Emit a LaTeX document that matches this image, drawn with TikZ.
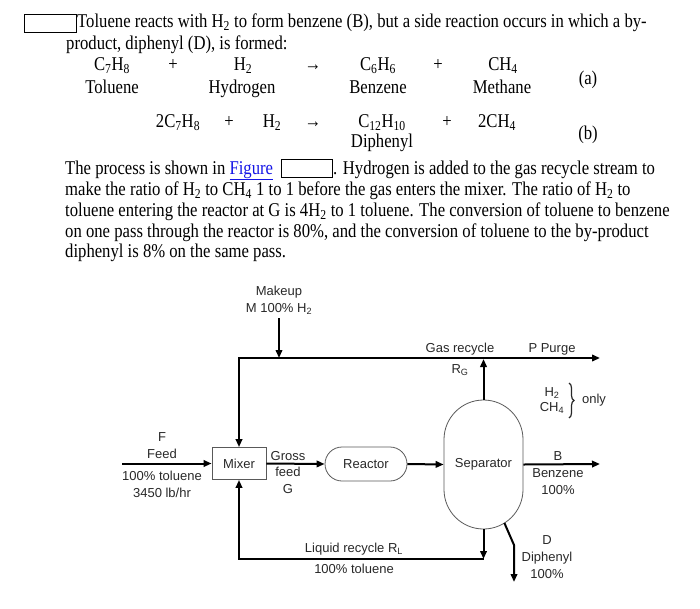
\documentclass[tikz,border=0pt]{standalone}
\usepackage{fontspec}
\setmainfont{Liberation Serif}[FakeStretch=0.855]
\setsansfont{Liberation Sans}
\usetikzlibrary{arrows.meta,shapes.misc,decorations.pathreplacing}
\definecolor{linkblue}{RGB}{20,20,230}
\definecolor{labgray}{RGB}{40,40,40}
\begin{document}
\begin{tikzpicture}[x=1pt,y=-1pt,
  body/.style={font=\fontsize{19.5}{21}\selectfont, inner sep=0pt, anchor=base west},
  eqn/.style={font=\fontsize{19.5}{21}\selectfont, inner sep=0pt, anchor=base},
  lab/.style={font=\sffamily\fontsize{13}{17}\selectfont, text=labgray, inner sep=0pt, align=center},
  blankbox/.style={draw, line width=0.8pt, inner sep=0pt, anchor=north west},
  flow/.style={line width=2pt, -{Triangle[length=8pt,width=6.5pt]}},
  flowtwo/.style={line width=2pt, {Triangle[length=8pt,width=6.5pt]}-{Triangle[length=8pt,width=6.5pt]}},
  unit/.style={draw=black!65, line width=0.8pt, inner sep=0pt, text=labgray, font=\sffamily\fontsize{13}{17}\selectfont}]
\useasboundingbox (0,0) rectangle (700,608);

% ---------- text ----------
\node[blankbox, minimum width=52pt, minimum height=18pt] (blank1) at (24,14) {};
\node[body] (l1) at (77,27) {Toluene reacts with H\textsubscript{2} to form benzene (B), but a side reaction occurs in which a by-};
\node[body] (l2) at (66,49) {product, diphenyl (D), is formed:};

\node[eqn] (a1) at (112,70) {C\textsubscript{7}H\textsubscript{8}};
\node[eqn] (a2) at (173,70) {+};
\node[eqn] (a3) at (243,70) {H\textsubscript{2}};
\node[eqn] (a4) at (313,70) {→};
\node[eqn] (a5) at (378,70) {C\textsubscript{6}H\textsubscript{6}};
\node[eqn] (a6) at (438,70) {+};
\node[eqn] (a7) at (503,70) {CH\textsubscript{4}};
\node[eqn] (a8) at (112,93) {Toluene};
\node[eqn] (a9) at (242,93) {Hydrogen};
\node[eqn] (a10) at (378,93) {Benzene};
\node[eqn] (a11) at (502,93) {Methane};
\node[eqn] (alab) at (588,84) {(a)};

\node[eqn] (b1) at (178,127) {2C\textsubscript{7}H\textsubscript{8}};
\node[eqn] (b2) at (229,127) {+};
\node[eqn] (b3) at (272,127) {H\textsubscript{2}};
\node[eqn] (b4) at (313,127) {→};
\node[eqn] (b5) at (382,127) {C\textsubscript{12}H\textsubscript{10}};
\node[eqn] (b6) at (447,127) {+};
\node[eqn] (b7) at (497,127) {2CH\textsubscript{4}};
\node[eqn] (b8) at (382,147) {Diphenyl};
\node[eqn] (blab) at (588,139) {(b)};

\node[body] (p1a) at (65,174) {The process is shown in \textcolor{linkblue}{\underline{Figure}}};
\node[blankbox, minimum width=51pt, minimum height=18pt] (blank2) at (281,159) {};
\node[body] (p1b) at (333,174) {. Hydrogen is added to the gas recycle stream to};
\node[body] (p2) at (65,195) {make the ratio of H\textsubscript{2} to CH\textsubscript{4} 1 to 1 before the gas enters the mixer. The ratio of H\textsubscript{2} to};
\node[body] (p3) at (65,216.5) {toluene entering the reactor at G is 4H\textsubscript{2} to 1 toluene. The conversion of toluene to benzene};
\node[body] (p4) at (65,237.5) {on one pass through the reactor is 80\%, and the conversion of toluene to the by-product};
\node[body] (p5) at (65,257.5) {diphenyl is 8\% on the same pass.};

% ---------- units ----------
\node[unit, minimum width=54pt, minimum height=32pt] (mixer) at (239,463.5) {Mixer};
\node[unit, rounded rectangle, minimum width=82pt, minimum height=34pt] (reactor) at (366,464) {Reactor};
\node[unit, rounded corners=39.5pt, minimum width=79pt, minimum height=129pt] (sep) at (483.5,464.5) {Separator};

% ---------- coordinates ----------
\coordinate (feedin) at (122,463.5);
\coordinate (mk) at (279,318);
\coordinate (topMk) at (279,358);
\coordinate (topL) at (239,358);
\coordinate (topSep) at (483.5,359);
\coordinate (purge) at (600,358);
\coordinate (bout) at (600,464);
\coordinate (botR) at (483.5,559);
\coordinate (botL) at (239,559);
\coordinate (dstart) at (504.4,523);
\coordinate (dbend) at (514,545);
\coordinate (dend) at (514,582);

% ---------- streams ----------
\draw[flow] (feedin) -- (mixer.west);
\draw[flow] (mk) -- (topMk);
\draw[flowtwo] (purge) -- (topL) -- (mixer.north);
\draw[flow] (sep.north) -- (topSep);
\draw[flow] (mixer.east) -- (reactor.west);
\draw[flow] (reactor.east) -- (sep.west);
\draw[flow] (sep.east) -- (bout);
\draw[flow] (sep.south) -- (botR);
\draw[flow] (botR) -- (botL) -- (mixer.south);
\draw[flow] (dstart) -- (dbend) -- (dend);

% ---------- labels ----------
\node[lab] (mklab) at (279,300.5) {Makeup\\M 100\% H\textsubscript{2}};
\node[lab] (flab) at (162,446) {F\\Feed};
\node[lab] (flab2) at (162,484) {100\% toluene\\3450 lb/hr};
\node[lab, font=\sffamily\fontsize{13}{16.5}\selectfont] (glab) at (288,472.5) {Gross\\feed\\G};
\node[lab] (gaslab) at (460,349) {Gas recycle};
\node[lab] (rglab) at (460,370) {R\textsubscript{G}};
\node[lab] (plab) at (552,349) {P Purge};
\node[lab, font=\sffamily\fontsize{13}{15}\selectfont] (hclab) at (552,400.5) {H\textsubscript{2}\\CH\textsubscript{4}};
\draw[line width=1.2pt, labgray, decorate, decoration={brace, amplitude=5pt}] (569,383) -- (569,418);
\node[lab] (onlylab) at (594,400) {only};
\node[lab] (blab2) at (558,473) {B\\Benzene\\100\%};
\node[lab] (dlab) at (547,557) {D\\Diphenyl\\100\%};
\node[lab] (llab) at (354,549) {Liquid recycle R\textsubscript{L}};
\node[lab] (llab2) at (354,569) {100\% toluene};
\end{tikzpicture}
\end{document}
